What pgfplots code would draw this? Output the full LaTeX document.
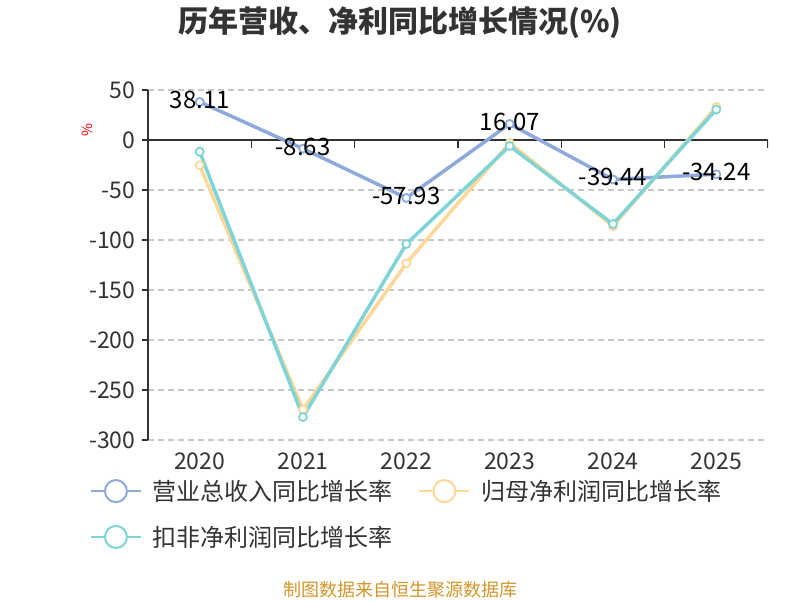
\documentclass[border=0pt]{standalone}
\usepackage{fontspec}
\setmainfont{Noto Sans CJK SC}
\usepackage{pgfplots}
\usepackage{pgfplotstable}
\pgfplotsset{compat=1.18}

\definecolor{cA}{HTML}{8EA9DB}
\definecolor{cB}{HTML}{FFD798}
\definecolor{cC}{HTML}{7ED4D6}
\definecolor{txt}{HTML}{333333}
\definecolor{grd}{HTML}{C8C8C8}
\definecolor{src}{HTML}{D4952B}

% 营业总收入 / 归母净利润 / 扣非净利润 同比增长率 (%)
\pgfplotstableread{
x rev parent deduct
0 38.11 -25.4 -11.7
1 -8.63 -269.5 -277
2 -57.93 -123.3 -104
3 16.07 -3 -6
4 -39.44 -86 -84
5 -34.24 33 30.5
}\growth

\begin{document}
\begin{tikzpicture}[x=1pt,y=1pt]
\path[use as bounding box] (-148,-160) rectangle (652,440);
\node[font=\bfseries\fontsize{30}{34}\selectfont, text=txt] at (252,417) {历年营收、净利同比增长情况(\%)};
\node[font=\fontsize{18}{20}\selectfont, text=src] at (252,-150) {制图数据来自恒生聚源数据库};
\node[font=\fontsize{14}{14}\selectfont, text=red, rotate=90] at (-61,310) {\%};
\begin{axis}[
  at={(0,0)}, anchor=south west,
  scale only axis, width=620pt, height=350pt,
  xmin=-0.5, xmax=5.5, ymin=-300, ymax=50,
  axis y line=left, axis x line=bottom,
  x axis line style={draw=none},
  y axis line style={-, txt, line width=1.5pt},
  xtick={0,...,5}, xticklabels={2020,2021,2022,2023,2024,2025},
  xtick style={draw=none},
  ytick={-300,-250,...,50},
  ytick style={txt, line width=1.5pt},
  ytick align=outside, major tick length=6pt,
  ymajorgrids,
  major grid style={grd, line width=1.2pt, dash pattern=on 6pt off 4pt},
  tick label style={font=\fontsize{23}{26}\selectfont, text=txt},
  xticklabel style={yshift=-6pt},
  yticklabel style={xshift=-3pt},
  /pgf/number format/assume math mode=true,
  legend columns=2,
  legend style={at={(0,0)}, anchor=north west, xshift=-58pt, yshift=-38pt,
    draw=none, fill=none, inner sep=0pt, row sep=20pt,
    font=\fontsize{24}{27}\selectfont, text=txt,
    /tikz/every odd column/.append style={column sep=9pt},
    /tikz/every even column/.append style={column sep=24pt}},
  legend image code/.code={
    \draw[#1, mark=none, line width=1.5pt] (0pt,0pt) -- (50pt,0pt);
    \draw[#1, mark=none, line width=2pt, fill=white] (25pt,0pt) circle (11pt);},
]
% zero line with category boundary ticks
\draw[txt, line width=1.5pt] (axis cs:-0.5,0) -- (axis cs:5.5,0);
\pgfplotsinvokeforeach{-0.5,0.5,1.5,2.5,3.5,4.5,5.5}{
  \draw[txt, line width=1.5pt] (axis cs:#1,0) -- ++(0pt,-8pt);
}

\addplot[cA, line width=3.5pt, mark=*, mark size=4pt,
  mark options={fill=white, line width=1.8pt},
  nodes near coords={\pgfplotspointmeta}, point meta=explicit symbolic,
  every node near coord/.append style={anchor=center, yshift=2pt, text=black,
    font=\fontsize{24}{27}\selectfont}]
  table[x=x, y=rev, meta=rev] {\growth};
\addplot[cB, line width=3.5pt, mark=*, mark size=4pt,
  mark options={fill=white, line width=1.8pt}]
  table[x=x, y=parent] {\growth};
\addplot[cC, line width=3.5pt, mark=*, mark size=4pt,
  mark options={fill=white, line width=1.8pt}]
  table[x=x, y=deduct] {\growth};
\legend{营业总收入同比增长率, 归母净利润同比增长率, 扣非净利润同比增长率}
\end{axis}
\end{tikzpicture}
\end{document}
